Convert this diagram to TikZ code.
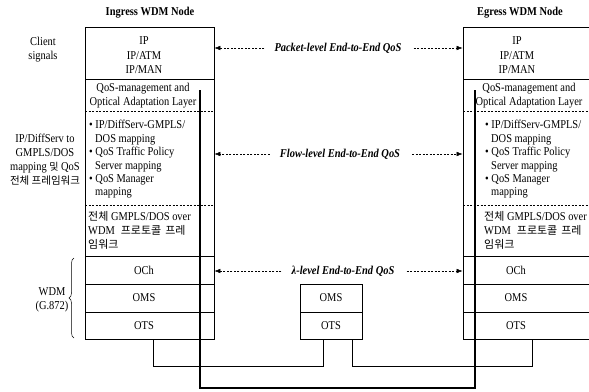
\documentclass[tikz,border=0pt]{standalone}
\usepackage{fontspec}
\setmainfont[FakeStretch=0.87]{Liberation Serif}
\newfontfamily\kr{Noto Sans CJK KR}
\usetikzlibrary{arrows.meta,decorations.pathreplacing}
\begin{document}
\begin{tikzpicture}[x=1pt,y=-1pt,
  txt/.style={inner sep=0, align=center, font=\fontsize{12}{14}\selectfont},
  iptxt/.style={inner sep=0, align=center, font=\fontsize{12}{14.5}\selectfont},
  ltxt/.style={inner sep=0, align=left, font=\fontsize{12}{14}\selectfont},
  btxt/.style={inner sep=0, align=left, font=\fontsize{12}{13.4}\selectfont},
  sidetxt/.style={inner sep=0, align=center, font=\fontsize{12}{14}\selectfont},
  nodetitle/.style={inner sep=0, font=\fontsize{12}{14}\bfseries\selectfont},
  qos/.style={inner sep=0, font=\fontsize{12}{14}\bfseries\itshape\selectfont},
  sect/.style={draw, line width=0.6pt, inner sep=0, minimum width=#1},
  dsep/.style={line width=0.5pt, dash pattern=on 2pt off 1.5pt},
  qarrow/.style={line width=0.5pt, dash pattern=on 2pt off 1.5pt, -{Latex[length=6pt,width=4.5pt]}},
  link/.style={line width=0.6pt},
  fiber/.style={line width=2.6pt, line join=miter},
  bracestyle/.style={line width=0.5pt, decorate, decoration={brace,amplitude=5pt}},
]
\useasboundingbox[fill=white] (0,0) rectangle (589,391);

% ---------- Ingress node ----------
\node[nodetitle] (tin) at (150,13) {Ingress WDM Node};
\node[sect=129, minimum height=52] (iIP) at (149.5,53) {};
\node[sect=129, minimum height=177] (iMid) at (149.5,167.5) {};
\node[sect=129, minimum height=28] (iOCh) at (149.5,270) {};
\node[sect=129, minimum height=28] (iOMS) at (149.5,298) {};
\node[sect=129, minimum height=27] (iOTS) at (149.5,325.5) {};
\node[iptxt] (iIPt) at (144,55.5) {IP\\IP/ATM\\IP/MAN};
\node[txt] (iOCht) at (144,270) {OCh};
\node[txt] (iOMSt) at (144,298) {OMS};
\node[txt] (iOTSt) at (144,325.5) {OTS};
\node[txt] (iQ) at (143,96) {QoS-management and\\Optical Adaptation Layer};
\node[btxt, anchor=west] (iB) at (89,159.5) {\textbullet\ IP/DiffServ-GMPLS/\\\hspace*{6pt}DOS mapping\\\textbullet\ QoS Traffic Policy\\\hspace*{6pt}Server mapping\\\textbullet\ QoS Manager\\\hspace*{6pt}mapping};
\node[ltxt, anchor=west] (iK) at (88,230) {{\kr\fontsize{11}{14}\selectfont 전체} GMPLS/DOS over\\WDM\hspace{6pt}{\kr\fontsize{11}{14}\selectfont 프로토콜\hspace{4pt}프레}\\{\kr\fontsize{11}{14}\selectfont 임워크}};
\coordinate (iD1) at (85,111);
\coordinate (iD2) at (85,205);
\draw[dsep] (iD1) -- (iD1 -| iMid.east);
\draw[dsep] (iD2) -- (iD2 -| iMid.east);

% ---------- Egress node ----------
\node[nodetitle] (teg) at (520,13) {Egress WDM Node};
\node[sect=128, minimum height=52] (eIP) at (527,53) {};
\node[sect=128, minimum height=177] (eMid) at (527,167.5) {};
\node[sect=128, minimum height=28] (eOCh) at (527,270) {};
\node[sect=128, minimum height=28] (eOMS) at (527,298) {};
\node[sect=128, minimum height=27] (eOTS) at (527,325.5) {};
\node[iptxt] (eIPt) at (517,55.5) {IP\\IP/ATM\\IP/MAN};
\node[txt] (eOCht) at (516,270) {OCh};
\node[txt] (eOMSt) at (516,298) {OMS};
\node[txt] (eOTSt) at (516,325.5) {OTS};
\node[txt] (eQ) at (529,96) {QoS-management and\\Optical Adaptation Layer};
\node[btxt, anchor=west] (eB) at (485,159.5) {\textbullet\ IP/DiffServ-GMPLS/\\\hspace*{6pt}DOS mapping\\\textbullet\ QoS Traffic Policy\\\hspace*{6pt}Server mapping\\\textbullet\ QoS Manager\\\hspace*{6pt}mapping};
\node[ltxt, anchor=west] (eK) at (484,230) {{\kr\fontsize{11}{14}\selectfont 전체} GMPLS/DOS over\\WDM\hspace{6pt}{\kr\fontsize{11}{14}\selectfont 프로토콜\hspace{4pt}프레}\\{\kr\fontsize{11}{14}\selectfont 임워크}};
\coordinate (eD1) at (463,111);
\coordinate (eD2) at (463,205);
\draw[dsep] (eD1) -- (eD1 -| eMid.east);
\draw[dsep] (eD2) -- (eD2 -| eMid.east);

% ---------- Middle node ----------
\node[sect=62, minimum height=28, txt] (mOMS) at (331,298) {OMS};
\node[sect=62, minimum height=27, txt] (mOTS) at (331,325.5) {OTS};

% ---------- Fibre links ----------
\draw[link] ([xshift=3.5pt]iOTS.south) -- ++(0,27) -| ([xshift=-8pt]mOTS.south);
\draw[link] ([xshift=21pt]mOTS.south) -- ++(0,27) -| ([xshift=5pt]eOTS.south);

% ---------- Thick end-to-end line ----------
\coordinate (tL) at (200,90);
\coordinate (tR) at (475,90);
\draw[fiber] (tL) -- ++(0,298) -| (tR);

% ---------- QoS arrows ----------
\node[qos] (pk) at (338,48) {Packet-level End-to-End QoS};
\draw[qarrow] ([xshift=-10pt]pk.west) -- (pk.west -| iIP.east);
\draw[qarrow] ([xshift=12pt]pk.east) -- (pk.east -| eIP.west);
\node[qos] (fl) at (340,154) {Flow-level End-to-End QoS};
\draw[qarrow] ([xshift=-10pt]fl.west) -- (fl.west -| iMid.east);
\draw[qarrow] ([xshift=12pt]fl.east) -- (fl.east -| eMid.west);
\node[qos] (la) at (343,271) {λ-level End-to-End QoS};
\draw[qarrow] ([xshift=-10pt]la.west) -- (la.west -| iOCh.east);
\draw[qarrow] ([xshift=12pt]la.east) -- (la.east -| eOCh.west);

% ---------- Side labels ----------
\node[sidetxt] (cl) at (43,50) {Client\\signals};
\node[sidetxt] (ipd) at (45,160) {IP/DiffServ to\\GMPLS/DOS\\mapping {\kr\fontsize{10}{14}\selectfont 및} QoS\\{\kr\fontsize{10.5}{14}\selectfont 전체 프레임워크}};
\node[sidetxt] (wdm) at (52,300) {WDM\\(G.872)};
\coordinate (bB) at (74,338);
\coordinate (bT) at (74,258);
\draw[bracestyle] (bB) -- (bT);
\end{tikzpicture}
\end{document}
